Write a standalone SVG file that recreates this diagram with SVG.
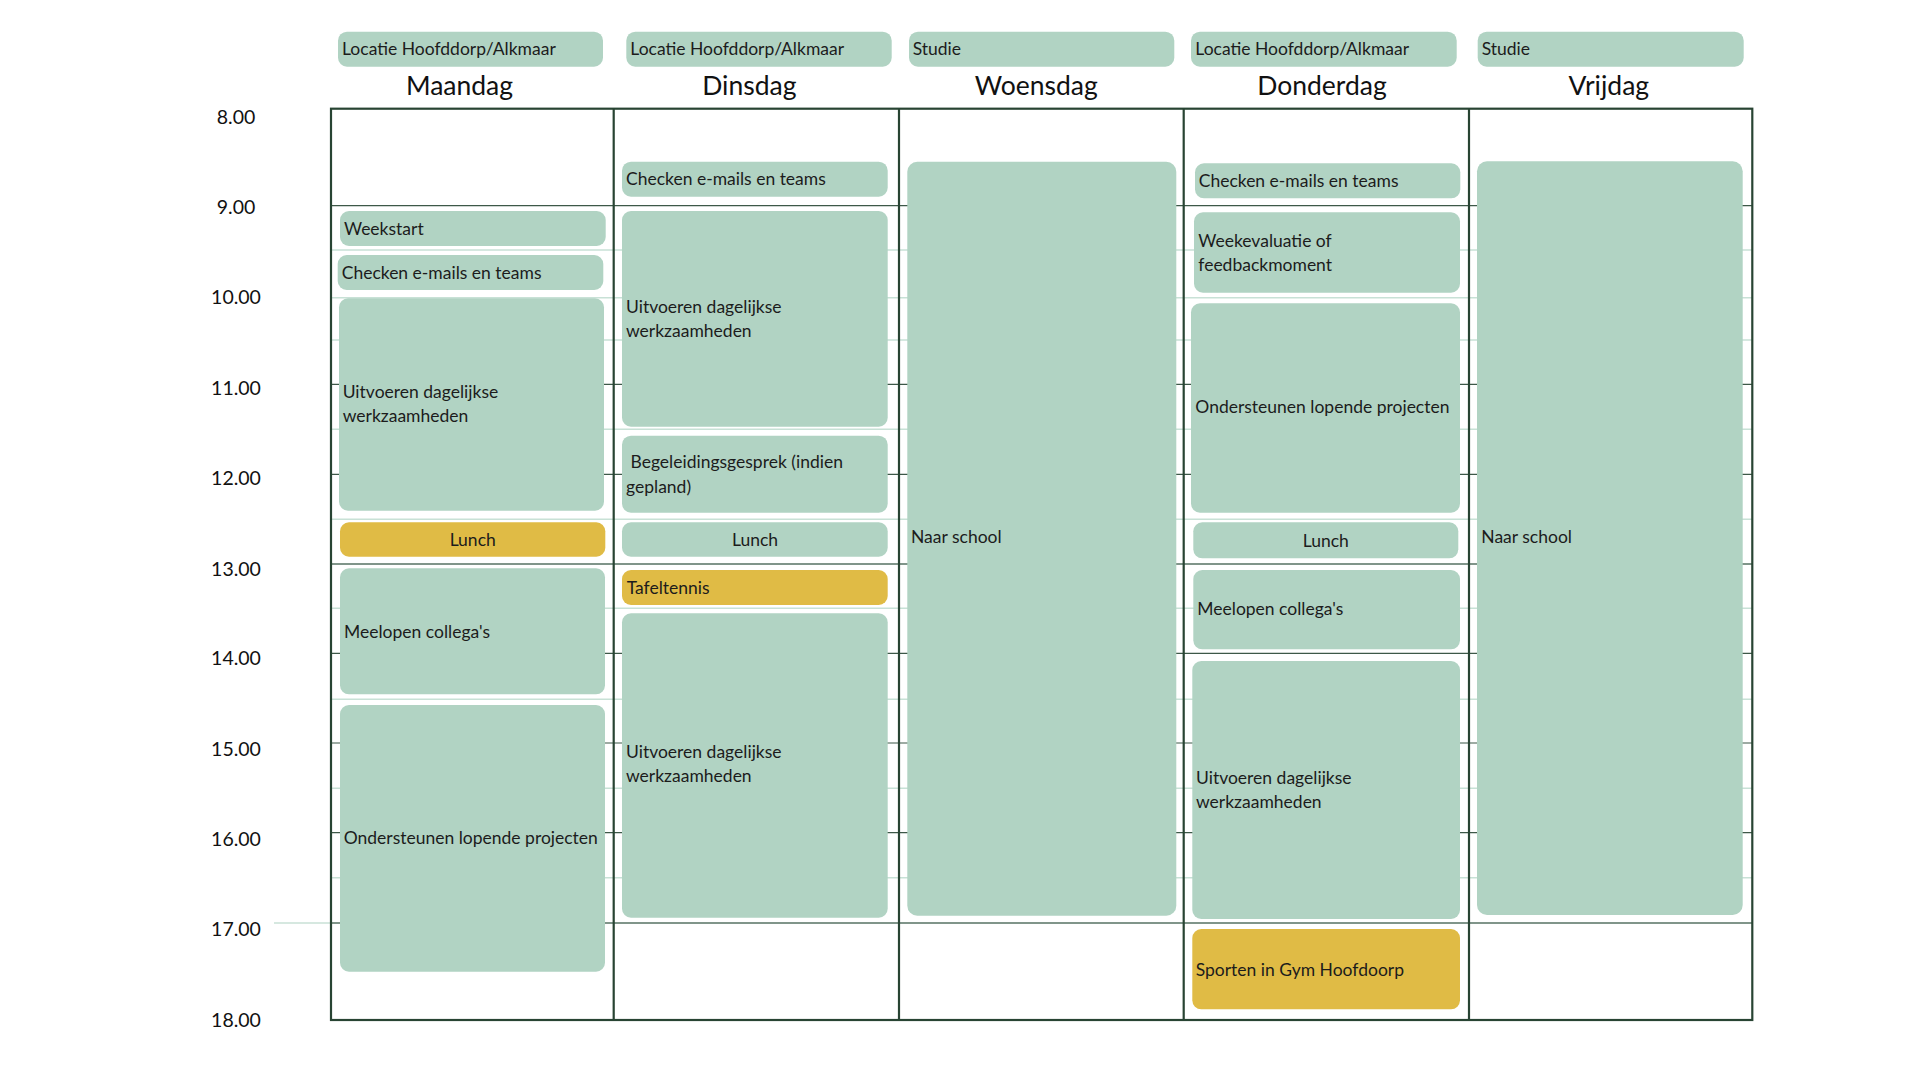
<svg xmlns="http://www.w3.org/2000/svg" width="1920" height="1080" viewBox="0 0 1920 1080">
<style>
.bg{fill:#ffffff}
.box{fill:#b1d3c3}
.yel{fill:#e0bb45}
.t{font-family:Lato,"Liberation Sans",sans-serif;font-size:17.5px;fill:#1c1c1c}
.c{text-anchor:middle}
.day{font-family:Lato,"Liberation Sans",sans-serif;font-size:26.5px;fill:#111;text-anchor:middle}
.hr{font-family:Lato,"Liberation Sans",sans-serif;font-size:19.5px;fill:#111;text-anchor:middle}
.half{stroke:#c8e1d6;stroke-width:1.5;fill:none}
.dark{stroke:#3d5848;stroke-width:1.2;fill:none}
.mid{stroke:#80958a;stroke-width:2;fill:none}
.frame{stroke:#284433;stroke-width:2.2;fill:none}
</style>
<rect class="bg" x="0" y="0" width="1920" height="1080"/>

<g id="hour-labels">
<text class="hr" x="236" y="124">8.00</text>
<text class="hr" x="236" y="213.5">9.00</text>
<text class="hr" x="236" y="303.5">10.00</text>
<text class="hr" x="236" y="395">11.00</text>
<text class="hr" x="236" y="485">12.00</text>
<text class="hr" x="236" y="576">13.00</text>
<text class="hr" x="236" y="665">14.00</text>
<text class="hr" x="236" y="756">15.00</text>
<text class="hr" x="236" y="846">16.00</text>
<text class="hr" x="236" y="936">17.00</text>
<text class="hr" x="236" y="1026.5">18.00</text>
</g>

<g id="connectors">
<path class="half" d="M331 250H1752M331 297.7H1752M331 340H1752M331 429.3H1752M331 519.3H1752M331 608.3H1752M331 699.3H1752M331 788.3H1752M331 877.7H1752"/>
<path class="half" d="M274 923H331"/>
<path class="dark" d="M331 205.7H1752M331 384.3H1752M331 474.3H1752M331 653.3H1752M331 743H1752M331 832.7H1752"/>
<path class="mid" d="M331 564H1752M331 923H1752"/>
<path class="frame" d="M613.7 108.7V1020M899 108.7V1020M1183.7 108.7V1020M1469 108.7V1020"/>
<rect class="frame" x="331" y="108.7" width="1421.3" height="911.3"/>
</g>

<g id="headers">
<g id="hdr-maandag"><rect class="box" x="338" y="31.7" width="265" height="35" rx="9"/><text class="t" x="342" y="55">Locatie Hoofddorp/Alkmaar</text><text class="day" x="459.5" y="95">Maandag</text></g>
<g id="hdr-dinsdag"><rect class="box" x="626.3" y="31.7" width="265.4" height="35" rx="9"/><text class="t" x="630.3" y="55">Locatie Hoofddorp/Alkmaar</text><text class="day" x="749.3" y="95">Dinsdag</text></g>
<g id="hdr-woensdag"><rect class="box" x="909" y="31.7" width="265.3" height="35" rx="9"/><text class="t" x="912.7" y="55">Studie</text><text class="day" x="1036.3" y="95">Woensdag</text></g>
<g id="hdr-donderdag"><rect class="box" x="1191" y="31.7" width="265.7" height="35" rx="9"/><text class="t" x="1195.3" y="55">Locatie Hoofddorp/Alkmaar</text><text class="day" x="1322" y="95">Donderdag</text></g>
<g id="hdr-vrijdag"><rect class="box" x="1477.7" y="31.7" width="266" height="35" rx="9"/><text class="t" x="1481.7" y="55">Studie</text><text class="day" x="1608.8" y="95">Vrijdag</text></g>
</g>

<g id="ma-weekstart"><rect class="box" x="340" y="211" width="265.7" height="35" rx="9"/><text class="t" x="344" y="235">Weekstart</text></g>
<g id="ma-checken"><rect class="box" x="337.7" y="255" width="265.6" height="35" rx="9"/><text class="t" x="341.7" y="279.3">Checken e-mails en teams</text></g>
<g id="ma-uitvoeren"><rect class="box" x="339" y="298.3" width="265" height="212.4" rx="9"/><text class="t" x="342.7" y="398.3">Uitvoeren dagelijkse</text><text class="t" x="342.7" y="422.3">werkzaamheden</text></g>
<g id="ma-lunch"><rect class="yel" x="340" y="522.3" width="265.3" height="34.4" rx="9"/><text class="t c" x="472.7" y="546">Lunch</text></g>
<g id="ma-meelopen"><rect class="box" x="340" y="568.3" width="265" height="126" rx="9"/><text class="t" x="344" y="637.7">Meelopen collega's</text></g>
<g id="ma-ondersteunen"><rect class="box" x="340" y="705" width="265" height="266.7" rx="9"/><text class="t" x="343.7" y="844.3">Ondersteunen lopende projecten</text></g>

<g id="di-checken"><rect class="box" x="622" y="161.7" width="265.7" height="35" rx="9"/><text class="t" x="626" y="185">Checken e-mails en teams</text></g>
<g id="di-uitvoeren1"><rect class="box" x="622" y="211" width="265.7" height="215.7" rx="9"/><text class="t" x="626" y="313.3">Uitvoeren dagelijkse</text><text class="t" x="626" y="336.7">werkzaamheden</text></g>
<g id="di-begeleiding"><rect class="box" x="622" y="435.7" width="265.7" height="77" rx="9"/><text class="t" x="626" y="468.3" xml:space="preserve"> Begeleidingsgesprek (indien</text><text class="t" x="626" y="492.7">gepland)</text></g>
<g id="di-lunch"><rect class="box" x="622" y="522.3" width="265.7" height="34.4" rx="9"/><text class="t c" x="755" y="546">Lunch</text></g>
<g id="di-tafeltennis"><rect class="yel" x="622" y="570" width="265.7" height="35" rx="9"/><text class="t" x="626.7" y="594.3">Tafeltennis</text></g>
<g id="di-uitvoeren2"><rect class="box" x="622" y="613.3" width="265.7" height="304.4" rx="9"/><text class="t" x="626" y="758.3">Uitvoeren dagelijkse</text><text class="t" x="626" y="781.7">werkzaamheden</text></g>

<g id="wo-school"><rect class="box" x="907.3" y="161.7" width="269" height="754" rx="10"/><text class="t" x="911" y="543.3">Naar school</text></g>

<g id="do-checken"><rect class="box" x="1195" y="163.3" width="265.3" height="35" rx="9"/><text class="t" x="1198.7" y="186.7">Checken e-mails en teams</text></g>
<g id="do-weekevaluatie"><rect class="box" x="1194" y="212.3" width="266" height="80.4" rx="9"/><text class="t" x="1198.3" y="246.7">Weekevaluatie of</text><text class="t" x="1198.3" y="270.7">feedbackmoment</text></g>
<g id="do-ondersteunen"><rect class="box" x="1191" y="303.3" width="269" height="209.4" rx="9"/><text class="t" x="1195.3" y="413.3">Ondersteunen lopende projecten</text></g>
<g id="do-lunch"><rect class="box" x="1193.3" y="522.3" width="265" height="36" rx="9"/><text class="t c" x="1325.8" y="546.7">Lunch</text></g>
<g id="do-meelopen"><rect class="box" x="1193.3" y="570" width="266.7" height="79.3" rx="9"/><text class="t" x="1197.3" y="615">Meelopen collega's</text></g>
<g id="do-uitvoeren"><rect class="box" x="1192.3" y="661" width="267.7" height="258" rx="9"/><text class="t" x="1196" y="784.3">Uitvoeren dagelijkse</text><text class="t" x="1196" y="808.3">werkzaamheden</text></g>
<g id="do-sporten"><rect class="yel" x="1192.3" y="929" width="267.7" height="80.3" rx="9"/><text class="t" x="1195.7" y="976">Sporten in Gym Hoofdoorp</text></g>

<g id="vr-school"><rect class="box" x="1477" y="161.3" width="265.7" height="753.7" rx="10"/><text class="t" x="1481.3" y="543.3">Naar school</text></g>
</svg>
